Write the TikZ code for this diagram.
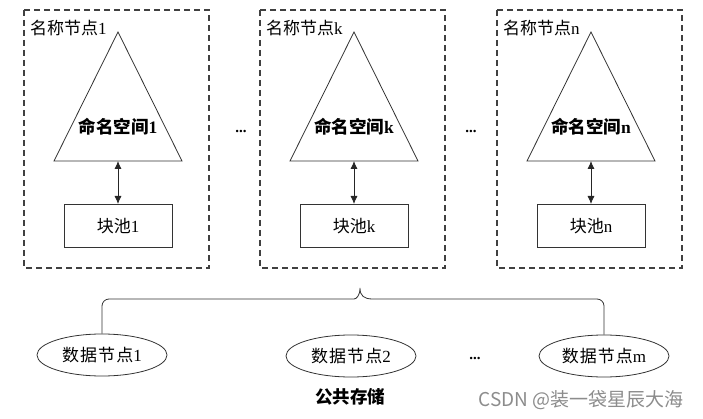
\documentclass[tikz,border=0pt]{standalone}
\usepackage{fontspec}
\setmainfont{Liberation Serif}
\newfontfamily\cjk{Noto Sans CJK SC}
\newfontfamily\cjksp[LetterSpace=6]{Noto Sans CJK SC}
\newfontfamily\wmfont{Noto Sans CJK SC}
\usetikzlibrary{shapes.geometric,arrows.meta,calc}
\tikzset{
  nbox/.style={draw=black!75, dash pattern=on 6pt off 4pt, line width=1.1pt},
  tri/.style={draw=black!80, line width=0.8pt},
  pool/.style={draw=black!80, line width=0.8pt, minimum width=108pt, minimum height=43pt, inner sep=0pt},
  dnode/.style={draw=black!80, ellipse, line width=0.8pt, minimum width=130pt, minimum height=42pt, inner sep=0pt},
  link/.style={draw=black!85, line width=0.8pt, {Latex[length=8pt,width=7pt]}-{Latex[length=8pt,width=7pt]}},
  txt/.style={font=\fontsize{17}{19}\selectfont, inner sep=0pt},
  btxt/.style={font=\fontsize{17.5}{20}\selectfont\bfseries, inner sep=0pt},
  dots/.style={font=\fontsize{15}{16}\selectfont\bfseries, inner sep=0pt},
}
\begin{document}
\begin{tikzpicture}[x=1pt,y=-1pt]
\useasboundingbox (0,0) rectangle (703,419);
\foreach \L/\s/\id in {24/1/a, 260/k/b, 497/n/c}{
  \draw[nbox] (\L,10) rectangle ++(185,258);
  \node[txt, anchor=west] (lab\id) at (\L+6,28) {{\cjk 名称节点}\s};
  \draw[tri] (\L+94,32) -- (\L+158,161) -- (\L+30,161) -- cycle;
  \coordinate (base\id) at (\L+94,161);
  \node[btxt] (ns\id) at (\L+94,127) {{\cjk 命名空间}\s};
  \node[pool, txt, anchor=north] (pool\id) at (\L+94,204) {{\cjk 块池}\s};
  \draw[link] (base\id) -- (pool\id.north);
}
\node[dots] (dtop1) at (241,131) {...};
\node[dots] (dtop2) at (471,131) {...};
\node[dnode, txt] (d1) at (102,355) {{\cjksp 数据节点}1};
\node[dnode, txt] (d2) at (351,356) {{\cjksp 数据节点}2};
\node[dnode, txt] (d3) at (604,356) {{\cjksp 数据节点}m};
\node[dots] (dbot) at (475,358) {...};
\coordinate (bt) at (360,288);
\draw[tri, rounded corners=7pt] (d1.north) |- ($(bt)+(-13,11)$) [sharp corners]
  .. controls ($(bt)+(-4,11)$) and ($(bt)+(0,8)$) .. (bt)
  .. controls ($(bt)+(0,8)$) and ($(bt)+(4,11)$) .. ($(bt)+(13,11)$)
  [rounded corners=7pt] -| (d3.north);
\node[btxt] (pub) at (350,397) {{\cjk 公共存储}};
\node[font=\wmfont\fontsize{19}{21}\selectfont, text=black!45, anchor=east, inner sep=0pt] (wm) at (684,400) {CSDN @装一袋星辰大海};
\end{tikzpicture}
\end{document}
